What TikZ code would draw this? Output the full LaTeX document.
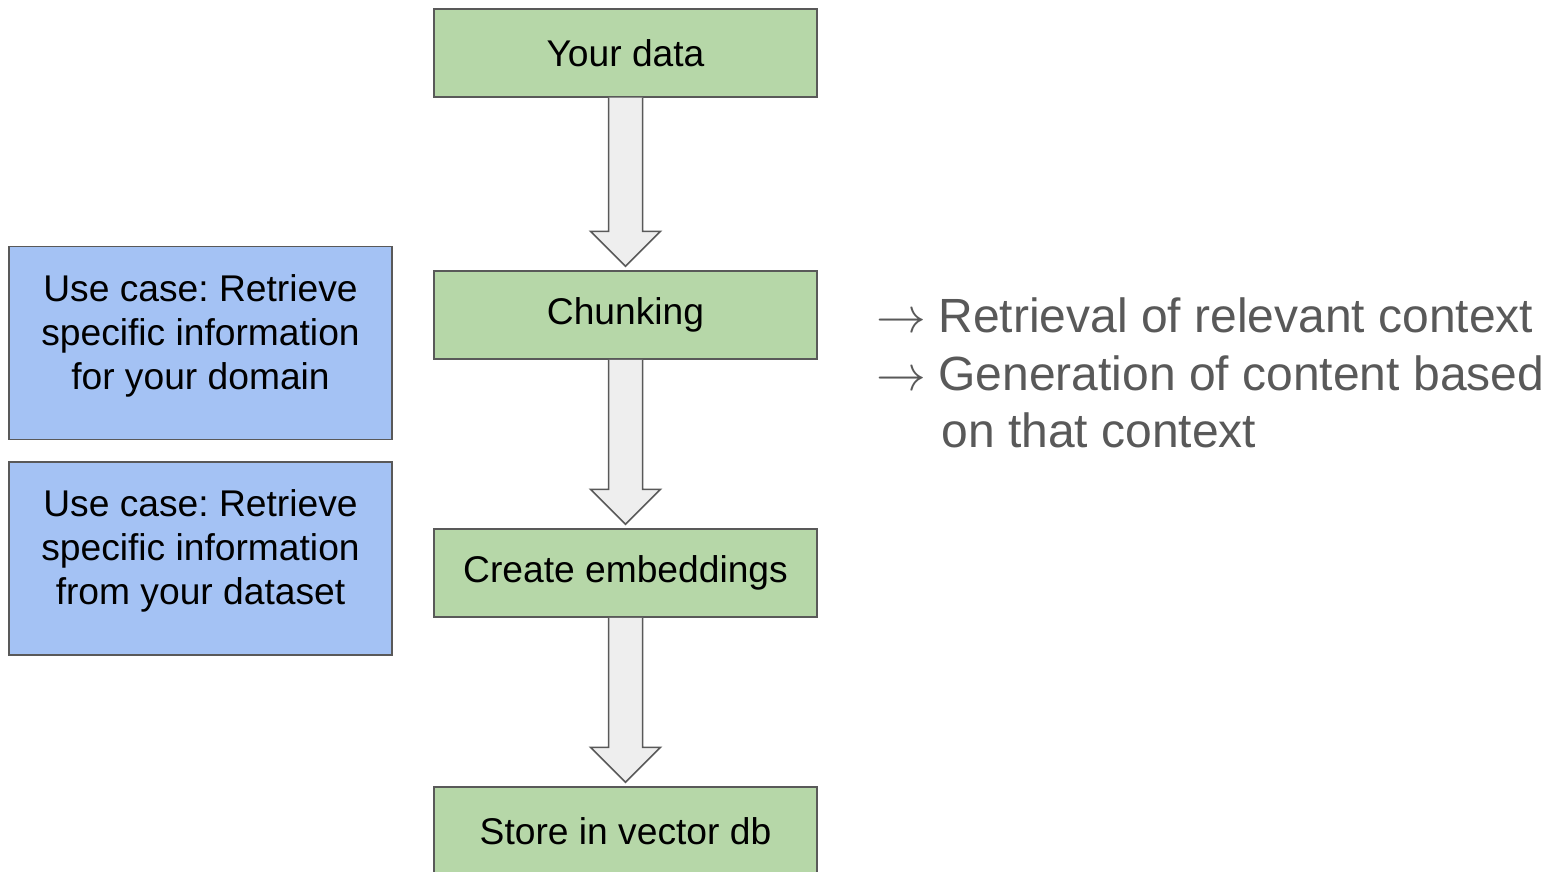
\documentclass[tikz,border=0pt]{standalone}
\usepackage{fontspec}
\setmainfont{Liberation Sans}
\usetikzlibrary{calc}
\frenchspacing
\definecolor{boxgreen}{HTML}{B6D7A8}
\definecolor{boxblue}{HTML}{A4C2F4}
\definecolor{edgegray}{HTML}{595959}
\definecolor{arrowfill}{HTML}{EEEEEE}
\definecolor{notegray}{HTML}{595959}
\tikzset{
  stagebox/.style={draw=edgegray, line width=0.75pt, fill=boxgreen, minimum width=191.5pt, minimum height=44pt, inner sep=0pt, font=\fontsize{18.6}{22}\selectfont},
  usebox/.style={draw=edgegray, line width=0.75pt, fill=boxblue, minimum width=191.5pt, minimum height=96.5pt, inner sep=0pt},
  usetext/.style={align=center, inner sep=0pt, font=\frenchspacing\fontsize{18.6}{22}\selectfont},
  blockarrow/.style={draw=edgegray, line width=0.75pt, fill=arrowfill, line join=miter},
  note/.style={anchor=base west, inner sep=0pt, text=notegray, font=\fontsize{24}{29}\selectfont}
}
\begin{document}
\begin{tikzpicture}[x=0.5pt, y=-0.5pt]
\useasboundingbox (0,0) rectangle (1543,872);
\clip (0,0) rectangle (1543,872);
\fill[white] (0,0) rectangle (1543,872);

\node[stagebox] (data) at (625.5,53) {Your data};
\node[stagebox] (chunk) at (625.5,315) {Chunking};
\node[stagebox] (embed) at (625.5,573) {Create embeddings};
\node[stagebox] (store) at (625.5,831) {Store in vector db};

\node[usebox] (uc1) at (200.5,343) {};
\node[usetext] (uc1t) at (200.5,336) {Use case: Retrieve\\specific information\\for your domain};
\node[usebox] (uc2) at (200.5,558.5) {};
\node[usetext] (uc2t) at (200.5,551) {Use case: Retrieve\\specific information\\from your dataset};

\foreach \a/\b in {data/chunk, chunk/embed, embed/store}{
  \draw[blockarrow] ($(\a.south)+(-17,0)$) -- ($(\b.north)+(-17,-39)$) -- ($(\b.north)+(-35,-39)$)
    -- ($(\b.north)+(0,-4)$) -- ($(\b.north)+(35,-39)$) -- ($(\b.north)+(17,-39)$) -- ($(\a.south)+(17,0)$);
}

\node[note] (ar1) at (876,332) {$\rightarrow$};
\node[note] (t1) at (938,332) {Retrieval of relevant context};
\node[note] (ar2) at (876,390) {$\rightarrow$};
\node[note] (t2) at (938,390) {Generation of content based};
\node[note] (t3) at (941,447) {on that context};
\end{tikzpicture}
\end{document}
